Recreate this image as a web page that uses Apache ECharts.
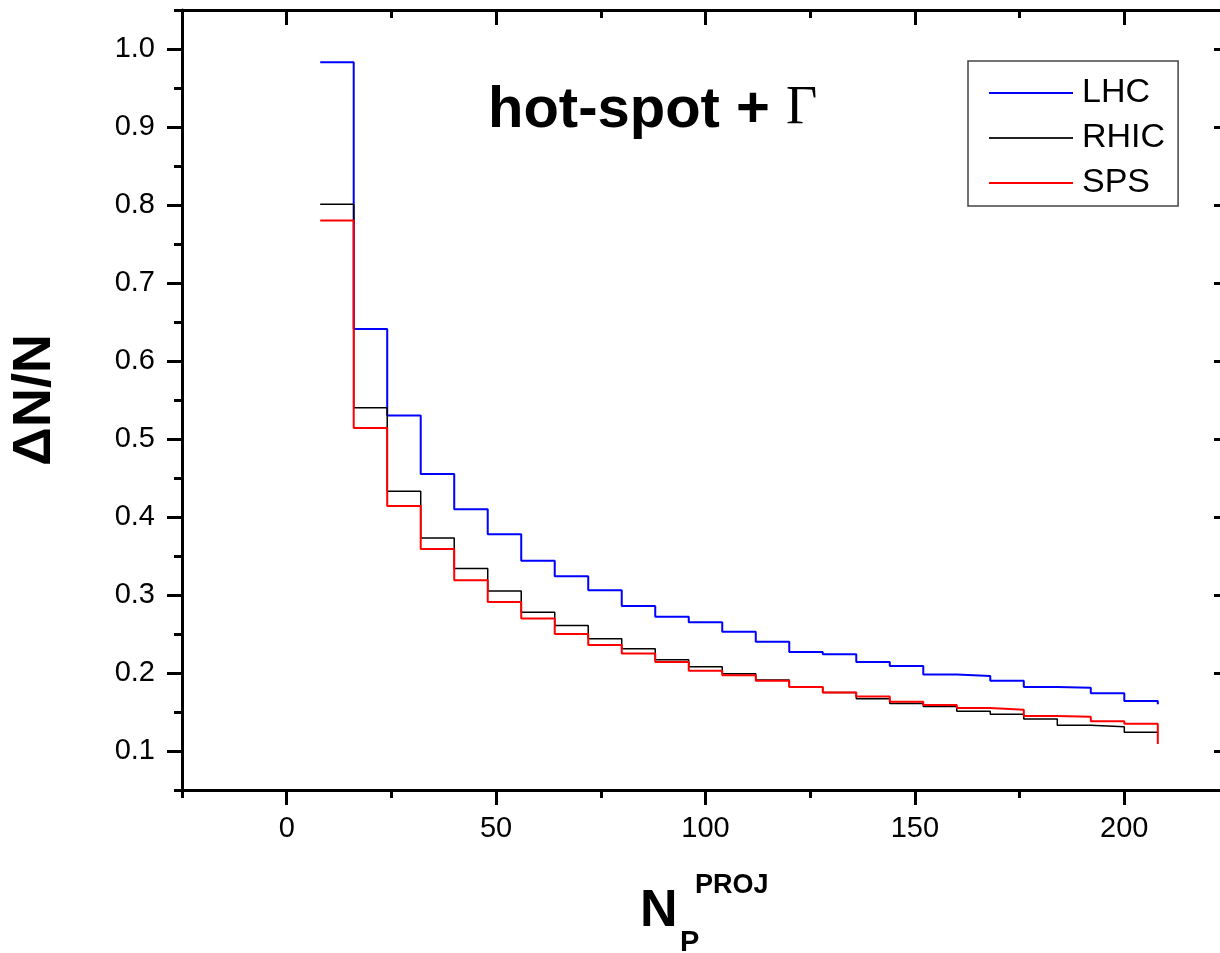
<!DOCTYPE html>
<html>
<head>
<meta charset="utf-8">
<script src="https://cdn.jsdelivr.net/npm/echarts@6/dist/echarts.min.js"></script>
<style>
  html, body { margin: 0; padding: 0; background: #fff; overflow: hidden; }
  #chart { width: 1240px; height: 953px; }
</style>
</head>
<body>
<div id="chart"></div>
<script>
// bin edges in N_P^PROJ (bins of width 8, last point closes the histogram)
const edges = [8, 16, 24, 32, 40, 48, 56, 64, 72, 80, 88, 96, 104, 112, 120, 128,
  136, 144, 152, 160, 168, 176, 184, 192, 200, 208]

const lhc = [0.983, 0.641, 0.530, 0.455, 0.410, 0.378, 0.344, 0.324, 0.306, 0.286,
  0.272, 0.265, 0.253, 0.240, 0.227, 0.224, 0.214, 0.209, 0.198, 0.196,
  0.190, 0.182, 0.181, 0.174, 0.164, 0.160]
const rhic = [0.801, 0.540, 0.433, 0.373, 0.334, 0.305, 0.278, 0.261, 0.244, 0.231,
  0.217, 0.208, 0.199, 0.191, 0.182, 0.175, 0.167, 0.161, 0.157, 0.151,
  0.147, 0.141, 0.133, 0.131, 0.124, 0.124]
const sps = [0.780, 0.514, 0.414, 0.359, 0.319, 0.291, 0.270, 0.250, 0.236, 0.225,
  0.214, 0.203, 0.197, 0.190, 0.182, 0.175, 0.170, 0.163, 0.159, 0.155,
  0.153, 0.145, 0.144, 0.138, 0.135, 0.109]

const xMajor = [0, 50, 100, 150, 200]
const xMinor = [-25, 25, 75, 125, 175, 225]
const yMajor = [0.1, 0.2, 0.3, 0.4, 0.5, 0.6, 0.7, 0.8, 0.9, 1.0]
const yMinor = [0.05, 0.15, 0.25, 0.35, 0.45, 0.55, 0.65, 0.75, 0.85, 0.95, 1.05]

const FONT = '"Liberation Sans", Arial, sans-serif'
const chart = echarts.init(document.getElementById('chart'))

const pairs = (vals) => edges.map((x, i) => [x, vals[i]])

// one helper for all the framing axes (bottom/top, left/right, major/minor)
function xAx(pos, ticks, len, inside, labels, line) {
  return {
    type: 'value', position: pos, min: -25, max: 225, offset: 0,
    axisLine: { show: line, onZero: false, lineStyle: { color: '#000', width: 3 } },
    axisTick: { show: true, inside: inside, length: len, customValues: ticks,
      lineStyle: { color: '#000', width: 3 } },
    axisLabel: labels
      ? { show: true, customValues: ticks, fontSize: 29, fontFamily: FONT, color: '#000', margin: 24 }
      : { show: false },
    splitLine: { show: false }
  }
}
function yAx(pos, ticks, len, inside, labels, line) {
  return {
    type: 'value', position: pos, min: 0.05, max: 1.05, offset: 0,
    axisLine: { show: line, onZero: false, lineStyle: { color: '#000', width: 3 } },
    axisTick: { show: true, inside: inside, length: len, customValues: ticks,
      lineStyle: { color: '#000', width: 3 } },
    axisLabel: labels
      ? { show: true, customValues: ticks, fontSize: 29, fontFamily: FONT, color: '#000', margin: 27,
          formatter: (v) => v.toFixed(1) }
      : { show: false },
    splitLine: { show: false }
  }
}

const yMain = yAx('left', yMajor, 15, false, true, true)
yMain.name = 'ΔN/N'
yMain.nameLocation = 'middle'
yMain.nameRotate = 90
yMain.nameGap = 120
yMain.nameTextStyle = { fontSize: 54, fontWeight: 'bold', fontFamily: FONT, color: '#000' }

const option = {
  animation: false,
  backgroundColor: '#fff',
  grid: { left: 180, top: 10, width: 1049, height: 780 },
  xAxis: [
    xAx('bottom', xMajor, 15, false, true, true),
    xAx('bottom', xMinor, 8, false, false, false),
    xAx('top', xMajor, 15, true, false, true),
    xAx('top', xMinor, 8, true, false, false)
  ],
  yAxis: [
    yMain,
    yAx('left', yMinor, 8, false, false, false),
    yAx('right', yMajor, 15, true, false, true),
    yAx('right', yMinor, 8, true, false, false)
  ],
  legend: {
    orient: 'vertical',
    left: 968,
    top: 61,
    padding: [15, 13, 6, 21],
    itemGap: 11,
    itemWidth: 84,
    itemHeight: 2,
    icon: 'rect',
    borderColor: '#444',
    borderWidth: 1.5,
    textStyle: { fontSize: 34, fontFamily: FONT, color: '#000', padding: [0, 0, 0, 4] },
    data: ['LHC', 'RHIC', 'SPS']
  },
  graphic: [
    { type: 'text', x: 488, y: 111,
      style: { text: 'hot-spot +', font: 'bold 58px ' + FONT, fill: '#000',
        align: 'left', textAlign: 'left', verticalAlign: 'middle', textVerticalAlign: 'middle' } },
    { type: 'text', x: 786, y: 109,
      style: { text: 'Γ', font: '54px "Liberation Serif", "Times New Roman", serif', fill: '#000',
        align: 'left', textAlign: 'left', verticalAlign: 'middle', textVerticalAlign: 'middle' } },
    { type: 'text', x: 640, y: 912,
      style: { text: 'N', font: 'bold 52px ' + FONT, fill: '#000',
        align: 'left', textAlign: 'left', verticalAlign: 'middle', textVerticalAlign: 'middle' } },
    { type: 'text', x: 680, y: 943,
      style: { text: 'P', font: 'bold 29px ' + FONT, fill: '#000',
        align: 'left', textAlign: 'left', verticalAlign: 'middle', textVerticalAlign: 'middle' } },
    { type: 'text', x: 695, y: 886,
      style: { text: 'PROJ', font: 'bold 27px ' + FONT, fill: '#000',
        align: 'left', textAlign: 'left', verticalAlign: 'middle', textVerticalAlign: 'middle' } }
  ],
  series: [
    { name: 'LHC', type: 'line', step: 'end', symbol: 'none', data: pairs(lhc),
      itemStyle: { color: '#0000ff' }, lineStyle: { color: '#0000ff', width: 2 } },
    { name: 'RHIC', type: 'line', step: 'end', symbol: 'none', data: pairs(rhic),
      itemStyle: { color: '#222' }, lineStyle: { color: '#000', width: 1.5 } },
    { name: 'SPS', type: 'line', step: 'end', symbol: 'none', data: pairs(sps),
      itemStyle: { color: '#ff0000' }, lineStyle: { color: '#ff0000', width: 2 } }
  ]
}

chart.setOption(option)
</script>
</body>
</html>
